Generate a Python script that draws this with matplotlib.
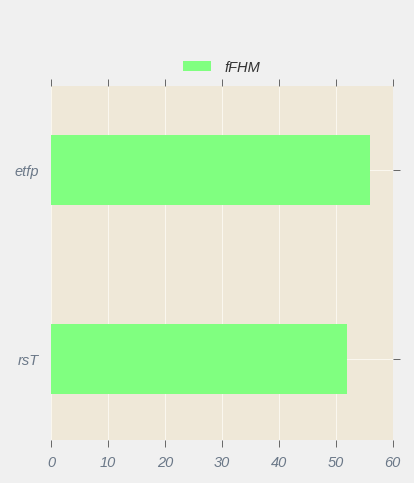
import matplotlib
matplotlib.use('Agg')
import matplotlib.pyplot as plt

categories = ['rsT', 'etfp']
values = [52, 56]
series_name = 'fFHM'
xticks = [0, 10, 20, 30, 40, 50, 60]

TXT = '#6b7888'

plt.rcParams['font.family'] = ['Liberation Sans', 'DejaVu Sans']
plt.rcParams['font.style'] = 'italic'

fig = plt.figure(figsize=(4.145, 4.835), dpi=100)
fig.patch.set_facecolor('#f0f0f0')
ax = fig.add_axes([0.123, 0.089, 0.824, 0.733])
ax.set_facecolor('#efe8d8')

pos = list(range(len(categories)))
ax.barh(pos, values, height=0.37, color='#80ff80', label=series_name, zorder=2)

ax.set_xlim(0, 60)
ax.set_ylim(-0.43, 1.445)
ax.set_xticks(xticks)
ax.set_yticks(pos)
ax.set_yticklabels(categories)
ax.grid(True, color='#fbf8f0', linewidth=0.7, zorder=1)
ax.set_axisbelow(True)

for s in ax.spines.values():
    s.set_visible(False)

ax.tick_params(axis='x', which='both', top=True, bottom=True, direction='out',
               length=5, width=0.7, color='#666666', labelcolor=TXT, labelsize=10.5, pad=6)
ax.tick_params(axis='y', which='both', left=False, right=True, direction='out',
               length=5, width=0.7, color='#666666', labelcolor=TXT, labelsize=10.5)
for lab in ax.get_xticklabels() + ax.get_yticklabels():
    lab.set_fontstyle('italic')

leg = ax.legend(loc='center', bbox_to_anchor=(0.5, 1.051), frameon=False,
                fontsize=10.5, handlelength=1.9, handleheight=0.7, handletextpad=0.9)
for t in leg.get_texts():
    t.set_color('#333333')
    t.set_fontstyle('italic')

fig.savefig('out.png', dpi=100, facecolor=fig.get_facecolor())
